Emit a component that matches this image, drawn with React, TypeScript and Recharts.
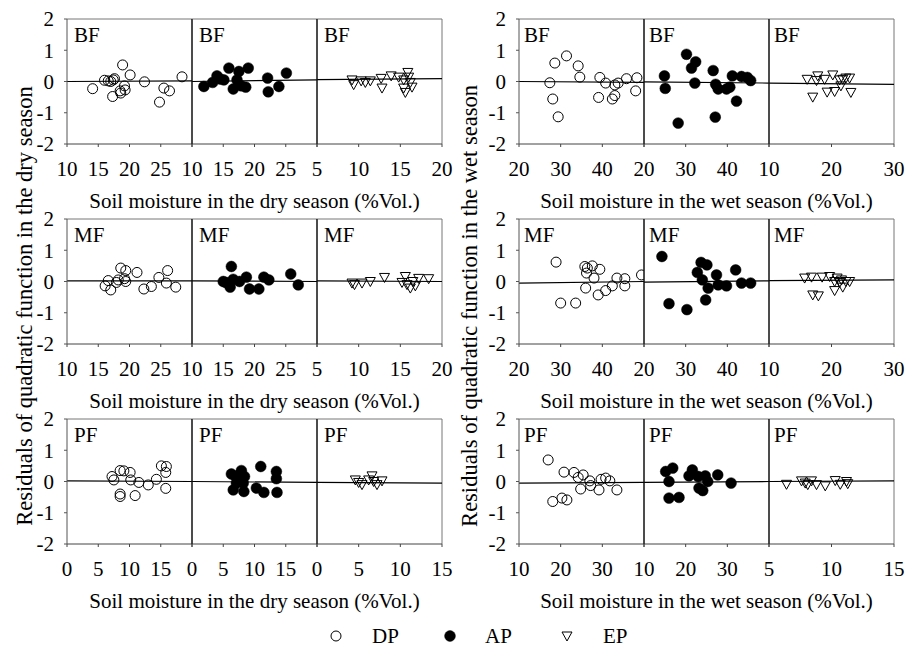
import React from 'react';
import { ScatterChart, Scatter, XAxis, YAxis, ReferenceLine } from 'recharts';

type Pt = [number, number];

// ---------- Data (x = soil moisture %Vol., y = residual) ----------
const bfDryDP: Pt[] = [[14.1,-0.23],[16.0,0.04],[16.6,0.02],[17.0,0.0],[17.4,0.05],[17.6,0.09],[18.9,0.53],[20.1,0.21],[19.2,-0.14],[19.3,-0.27],[18.5,-0.30],[17.3,-0.48],[18.6,-0.37],[22.4,-0.01],[25.5,-0.21],[26.4,-0.30],[24.8,-0.66],[28.4,0.15]];
const bfDryAP: Pt[] = [[11.9,-0.16],[13.3,-0.03],[14.0,0.18],[15.1,0.05],[15.9,0.43],[16.6,-0.24],[17.5,0.32],[17.9,-0.14],[18.6,-0.18],[19.0,0.43],[22.1,0.11],[22.2,-0.33],[23.9,-0.16],[25.1,0.27],[14.5,0.08],[17.2,0.05]];
const bfDryEP: Pt[] = [[9.2,0.05],[9.4,-0.1],[10.3,0.02],[10.8,-0.03],[11.4,0.02],[12.7,0.1],[12.8,-0.21],[13.9,0.18],[14.8,0.14],[15.4,0.05],[15.9,0.29],[16.0,0.14],[16.2,-0.03],[15.4,-0.21],[15.6,-0.35],[16.4,-0.18]];
const bfWetDP: Pt[] = [[27.4,-0.04],[28.6,0.59],[28.1,-0.56],[29.4,-1.13],[31.4,0.82],[34.2,0.5],[34.6,0.14],[39.1,-0.51],[39.4,0.13],[40.8,-0.05],[42.4,-0.56],[43.0,-0.45],[43.0,-0.11],[43.8,-0.05],[45.8,0.09],[48.3,0.12],[48.0,-0.3]];
const bfWetAP: Pt[] = [[24.9,0.18],[25.1,-0.22],[28.2,-1.33],[30.2,0.87],[31.4,0.43],[32.4,0.63],[32.2,-0.05],[36.6,0.35],[37.2,-0.09],[37.8,-0.24],[37.1,-1.14],[39.8,-0.24],[40.6,-0.18],[41.2,0.18],[42.2,-0.63],[43.4,0.16],[44.8,0.13],[45.6,0.03]];
const bfWetEP: Pt[] = [[16.1,0.07],[17.0,-0.5],[17.6,0.03],[17.8,0.18],[18.9,0.07],[19.3,-0.34],[20.2,0.21],[20.5,-0.32],[21.3,0.05],[21.8,0.07],[21.5,-0.14],[22.3,0.11],[22.9,0.11],[23.1,-0.35]];

const mfDryDP: Pt[] = [[16.1,-0.14],[16.6,0.03],[17.0,-0.27],[17.9,-0.03],[18.2,0.05],[18.6,0.43],[19.4,0.35],[19.4,0.0],[19.2,0.09],[21.2,0.29],[22.3,-0.24],[23.5,-0.16],[24.7,0.13],[26.1,0.35],[25.9,-0.05],[27.4,-0.18]];
const mfDryAP: Pt[] = [[15.0,0.0],[15.4,-0.03],[15.8,-0.05],[16.3,0.48],[16.1,-0.18],[16.6,0.07],[17.6,0.0],[18.7,0.14],[19.2,-0.24],[20.7,-0.24],[21.5,0.14],[22.3,0.05],[25.8,0.24],[27.0,-0.11]];
const mfDryEP: Pt[] = [[9.2,-0.05],[9.5,-0.1],[10.4,-0.05],[11.4,0.0],[13.1,0.13],[15.2,-0.03],[15.6,0.16],[15.8,-0.1],[16.2,-0.21],[16.8,-0.14],[17.2,0.1],[18.4,0.09],[16.5,0.0]];
const mfWetDP: Pt[] = [[28.9,0.62],[30.0,-0.69],[33.6,-0.69],[35.8,0.48],[36.4,0.43],[37.6,0.5],[36.2,0.27],[38.0,0.11],[39.4,0.39],[36.0,-0.21],[39.0,-0.43],[40.8,-0.29],[42.4,-0.14],[43.5,0.11],[45.4,0.09],[45.4,-0.14],[49.4,0.21]];
const mfWetAP: Pt[] = [[24.3,0.8],[26.0,-0.71],[30.3,-0.9],[32.8,0.29],[33.7,0.61],[35.1,0.53],[34.0,0.05],[34.8,-0.59],[35.4,-0.21],[37.4,0.21],[37.8,-0.11],[39.8,-0.14],[42.0,0.37],[43.4,-0.05],[45.6,-0.05]];
const mfWetEP: Pt[] = [[15.7,0.11],[16.8,0.14],[17.0,-0.43],[17.9,-0.46],[18.5,0.14],[19.7,0.16],[20.5,0.0],[20.9,0.11],[20.5,-0.29],[21.3,-0.03],[21.8,-0.18],[22.3,0.0],[22.9,0.0],[21.6,0.05]];

const pfDryDP: Pt[] = [[7.2,0.16],[7.5,0.05],[8.5,0.35],[9.1,0.34],[10.1,0.29],[10.2,0.05],[11.5,-0.03],[8.5,-0.4],[8.5,-0.48],[10.9,-0.45],[13.0,-0.11],[14.3,0.07],[15.1,0.5],[15.9,0.48],[15.8,0.29],[15.8,-0.22]];
const pfDryAP: Pt[] = [[6.3,0.24],[6.6,-0.27],[7.1,-0.05],[7.9,0.35],[8.4,0.16],[8.3,-0.32],[7.5,0.05],[11.0,0.48],[10.3,-0.21],[11.5,-0.35],[13.5,0.32],[13.5,0.09],[13.6,-0.35],[7.0,0.16],[8.2,-0.05]];
const pfDryEP: Pt[] = [[4.6,0.05],[5.0,-0.03],[5.4,-0.1],[6.2,0.05],[6.6,0.18],[6.8,0.0],[7.2,-0.1],[7.8,0.02]];
const pfWetDP: Pt[] = [[17.0,0.69],[18.1,-0.64],[20.3,-0.53],[21.5,-0.59],[20.8,0.3],[23.2,0.29],[24.2,0.13],[25.4,0.21],[24.8,-0.24],[27.0,0.02],[27.2,-0.13],[29.2,-0.27],[29.7,0.07],[30.8,0.11],[31.8,0.02],[33.5,-0.27]];
const pfWetAP: Pt[] = [[15.2,0.32],[16.9,0.43],[16.0,0.0],[16.0,-0.53],[18.4,-0.51],[20.8,0.18],[21.6,0.37],[23.0,0.16],[23.2,-0.21],[24.1,-0.29],[24.7,0.18],[25.3,0.0],[27.7,0.21],[30.9,-0.05]];
const pfWetEP: Pt[] = [[6.4,-0.09],[7.6,0.02],[7.9,-0.05],[8.1,-0.1],[8.4,0.02],[8.8,-0.1],[9.5,-0.14],[10.3,0.03],[10.7,-0.09],[11.2,0.0],[11.3,-0.07]];

// fitted-line values [at left end, at right end] for DP, AP, EP
const bfDryFit: Pt[] = [[0.0,0.02],[0.0,0.05],[0.06,0.09]];
const bfWetFit: Pt[] = [[0.0,-0.03],[-0.01,-0.05],[-0.05,-0.09]];
const mfDryFit: Pt[] = [[0.02,0.02],[0.02,0.0],[0.02,0.0]];
const mfWetFit: Pt[] = [[-0.05,0.0],[-0.02,0.02],[0.03,0.05]];
const pfDryFit: Pt[] = [[0.02,0.0],[0.0,-0.03],[-0.03,-0.05]];
const pfWetFit: Pt[] = [[-0.05,-0.03],[-0.03,0.0],[0.0,0.02]];

// axis ticks
const Y_TICKS = [-2, -1, 0, 1, 2];
const T_10_30 = [10, 15, 20, 25, 30];
const T_5_20 = [5, 10, 15, 20];
const T_0_20 = [0, 5, 10, 15, 20];
const T_0_15 = [0, 5, 10, 15];
const T_20_50 = [20, 30, 40, 50];
const T_10_30W = [10, 20, 30];
const T_10_40 = [10, 20, 30, 40];
const T_5_15 = [5, 10, 15];

const SITES = ['BF', 'MF', 'PF'];
const SERIES = ['DP', 'AP', 'EP'];
const DRY_TITLE = 'Soil moisture in the dry season (%Vol.)';
const WET_TITLE = 'Soil moisture in the wet season (%Vol.)';
const Y_TITLE_DRY = 'Residuals of quadratic function in the dry season';
const Y_TITLE_WET = 'Residuals of quadratic function in the wet season';

const dryPts = [[bfDryDP, bfDryAP, bfDryEP], [mfDryDP, mfDryAP, mfDryEP], [pfDryDP, pfDryAP, pfDryEP]];
const wetPts = [[bfWetDP, bfWetAP, bfWetEP], [mfWetDP, mfWetAP, mfWetEP], [pfWetDP, pfWetAP, pfWetEP]];
const dryFits = [bfDryFit, mfDryFit, pfDryFit];
const wetFits = [bfWetFit, mfWetFit, pfWetFit];
const dryTicks = [[T_10_30, T_10_30, T_5_20], [T_10_30, T_10_30, T_5_20], [T_0_20, T_0_20, T_0_15]];
const wetTicks = [[T_20_50, T_20_50, T_10_30W], [T_20_50, T_20_50, T_10_30W], [T_10_40, T_10_40, T_5_15]];

// ---------- Layout ----------
const FONT = '"Liberation Serif", "Times New Roman", Times, serif';
const PW = 125, PH = 125;
const ML = 45, MR = 30, MT = 15, XH = 45;
const COL_X = [67, 519];
const ROW_Y = [19, 219, 419];

const OpenCircle = (p: any) => <circle cx={p.cx} cy={p.cy} r={5} fill="none" stroke="#000" strokeWidth={1} />;
const FilledCircle = (p: any) => <circle cx={p.cx} cy={p.cy} r={5.4} fill="#000" stroke="#000" strokeWidth={0.5} />;
const DownTri = (p: any) => (
  <polygon points={`${p.cx - 5},${p.cy - 4} ${p.cx + 5},${p.cy - 4} ${p.cx},${p.cy + 5}`} fill="none" stroke="#000" strokeWidth={1} />
);
const SHAPES = [OpenCircle, FilledCircle, DownTri];

interface SubProps {
  pts: Pt[]; kind: number; ticks: number[]; fit: Pt; left: number; top: number;
}

function SubPanel({ pts, kind, ticks, fit, left, top }: SubProps) {
  const W = PW + ML + MR, H = PH + MT + XH;
  const data = pts.map(([x, y]) => ({ x, y }));
  const d0 = ticks[0], d1 = ticks[ticks.length - 1];
  const first = kind === 0, last = kind === 2;
  const tickFont = { fontSize: 21, fill: '#000', fontFamily: FONT };
  return (
    <div style={{ position: 'absolute', left: left - ML, top: top - MT, fontFamily: FONT }}>
      <ScatterChart width={W} height={H} margin={{ top: MT, right: MR, bottom: 0, left: 0 }} style={{ fontFamily: FONT }}>
        <XAxis xAxisId="b" dataKey="x" type="number" domain={[d0, d1]} ticks={ticks} interval={0}
          allowDataOverflow orientation="bottom" height={XH} stroke="#444" tickSize={3} tickMargin={14}
          tick={tickFont} tickFormatter={(v: number) => (!last && v === d1 ? '' : String(v))} />
        <YAxis yAxisId="l" dataKey="y" type="number" domain={[-2, 2]} ticks={Y_TICKS} interval={0}
          allowDataOverflow width={ML} stroke={first ? '#555' : '#111'} tickSize={3} tickMargin={10}
          tick={first ? tickFont : false} tickLine={first} />
        <ReferenceLine xAxisId="b" yAxisId="l" y={2} stroke="#777" strokeWidth={1} ifOverflow="visible" />
        <ReferenceLine xAxisId="b" yAxisId="l" x={d1} stroke={last ? '#777' : '#111'} strokeWidth={1} ifOverflow="visible" />
        <ReferenceLine xAxisId="b" yAxisId="l" segment={[{ x: d0, y: fit[0] }, { x: d1, y: fit[1] }]}
          stroke="#000" strokeWidth={1.2} ifOverflow="visible" />
        <Scatter xAxisId="b" yAxisId="l" data={data} shape={SHAPES[kind]} isAnimationActive={false} />
      </ScatterChart>
    </div>
  );
}

export default function App() {
  const panels: React.ReactNode[] = [];
  const labels: React.ReactNode[] = [];
  [0, 1].forEach((col) => {
    const ptsSet = col === 0 ? dryPts : wetPts;
    const fitSet = col === 0 ? dryFits : wetFits;
    const tickSet = col === 0 ? dryTicks : wetTicks;
    ROW_Y.forEach((top, row) => {
      [0, 1, 2].forEach((k) => {
        const left = COL_X[col] + k * PW;
        panels.push(
          <SubPanel key={`${col}-${row}-${k}`} pts={ptsSet[row][k]} kind={k} ticks={tickSet[row][k]}
            fit={fitSet[row][k]} left={left} top={top} />
        );
        labels.push(
          <text key={`l${col}-${row}-${k}`} x={left + (col === 0 ? 7 : 5)} y={top + 23} fontSize={21} fontFamily={FONT} fill="#000">
            {SITES[row]}
          </text>
        );
      });
    });
  });

  const legendX = [336, 450, 567];
  const legendTextX = [372, 485, 603];

  return (
    <div style={{ position: 'absolute', left: 0, top: 0, width: 909, height: 649, background: '#fff', overflow: 'hidden', fontFamily: FONT }}>
      {panels}
      <svg width={909} height={649} style={{ position: 'absolute', left: 0, top: 0, pointerEvents: 'none', fontFamily: FONT }}>
        {labels}
        {ROW_Y.map((top, r) => (
          <React.Fragment key={`xt${r}`}>
            <text x={COL_X[0] + 1.5 * PW} y={top + PH + 64} textAnchor="middle" fontSize={21} fontFamily={FONT}>{DRY_TITLE}</text>
            <text x={COL_X[1] + 1.5 * PW} y={top + PH + 64} textAnchor="middle" fontSize={21} fontFamily={FONT}>{WET_TITLE}</text>
          </React.Fragment>
        ))}
        <text transform="translate(32,306) rotate(-90)" textAnchor="middle" fontSize={22.5} fontFamily={FONT}>{Y_TITLE_DRY}</text>
        <text transform="translate(477,306) rotate(-90)" textAnchor="middle" fontSize={22.5} fontFamily={FONT}>{Y_TITLE_WET}</text>
        {SERIES.map((s, i) => {
          const cx = legendX[i], cy = 636;
          const Shape = SHAPES[i];
          return (
            <g key={s}>
              <Shape cx={cx} cy={cy} />
              <text x={legendTextX[i]} y={643} fontSize={21} fontFamily={FONT}>{s}</text>
            </g>
          );
        })}
      </svg>
    </div>
  );
}
